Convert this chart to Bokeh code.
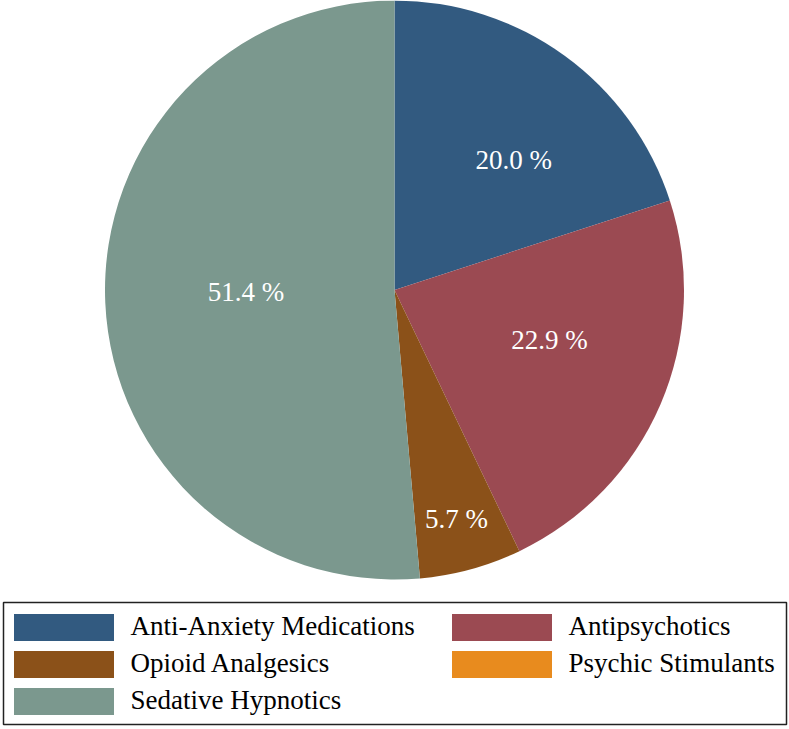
import math
from bokeh.plotting import figure
from bokeh.models import ColumnDataSource, Range1d, Legend, LegendItem, BoxAnnotation
from bokeh.core.properties import value
from bokeh.embed import file_html
from bokeh.resources import INLINE

# ---- data ----
categories = ["Anti-Anxiety Medications", "Antipsychotics", "Opioid Analgesics",
              "Psychic Stimulants", "Sedative Hypnotics"]
shares = [20.0, 22.9, 5.7, 0.0, 51.4]

# ---- style ----
colors = ["#325A80", "#9B4A52", "#8B5119", "#E88B1E", "#7B988E"]
label_shift_deg = [-6.6, 5.2, -0.2, 0.0, -1.9]
label_rfrac = [0.608, 0.563, 0.821, 0.0, 0.513]
FONT = "Liberation Serif"
FSIZE = "27px"

# ---- layout (pixels) ----
W, H = 789, 729
S = 1.0
def fx(X): return X * S
def fy(Y): return Y * S
CX, CY, R = fx(394), fy(289.5), 289.5 * S
def dx(px): return (px - CX) / R
def dy(py): return (CY - py) / R

total = sum(shares)
starts, ends, radii, cum = [], [], [], 0.0
for v in shares:
    starts.append(math.pi / 2 - 2 * math.pi * cum / total)
    cum += v
    ends.append(math.pi / 2 - 2 * math.pi * cum / total)
    radii.append(1.0 if v > 0 else 0.0)

src = ColumnDataSource(dict(cat=categories, share=shares, start=starts, end=ends,
                            r=radii, color=colors))

lx, ly, lt = [], [], []
for i, v in enumerate(shares):
    if v <= 0:
        continue
    mid = (starts[i] + ends[i]) / 2 + math.radians(label_shift_deg[i])
    lx.append(label_rfrac[i] * math.cos(mid))
    ly.append(label_rfrac[i] * math.sin(mid))
    lt.append(f"{v:.1f} %")
lsrc = ColumnDataSource(dict(x=lx, y=ly, text=lt))

p = figure(width=W, height=H, x_range=Range1d(dx(0), dx(W)), y_range=Range1d(dy(H), dy(0)),
           output_backend="svg", toolbar_location=None, x_axis_type=None, y_axis_type=None,
           min_border=0, outline_line_color=None)
p.grid.visible = False
p.background_fill_color = "white"
p.border_fill_color = "white"

wr = p.wedge(x=0, y=0, radius="r", start_angle="start", end_angle="end", direction="clock",
             fill_color="color", line_color=None, source=src)

p.text(x="x", y="y", text="text", source=lsrc, text_font=value(FONT), text_font_size=FSIZE,
       text_color="white", text_align="center", text_baseline="middle")

# legend frame
box = BoxAnnotation(left=dx(fx(3)), right=dx(fx(786)), top=dy(fy(602)), bottom=dy(fy(724)),
                    fill_alpha=0, fill_color=None, line_color="#222222", line_alpha=1.0,
                    line_width=1.5)
p.add_layout(box)

GW, GH, SP = 125, 34, 3
top_px = fy(613) - 0.1 * GH

def make_legend(idx, left_ref):
    n = len(idx)
    h = n * GH + (n - 1) * SP
    x = fx(left_ref) - 0.1 * GW
    b = H - (top_px + h)
    return Legend(items=[LegendItem(label=categories[i], renderers=[wr], index=i) for i in idx],
                  location=(x, b), orientation="vertical", glyph_width=GW, glyph_height=GH,
                  spacing=SP, padding=0, margin=0, label_standoff=5,
                  label_text_font=FONT, label_text_font_size=FSIZE, label_text_color="black",
                  background_fill_alpha=0, border_line_color=None)

p.add_layout(make_legend([0, 2, 4], 13))
p.add_layout(make_legend([1, 3], 451))

open("out.html", "w").write(file_html(p, INLINE))
